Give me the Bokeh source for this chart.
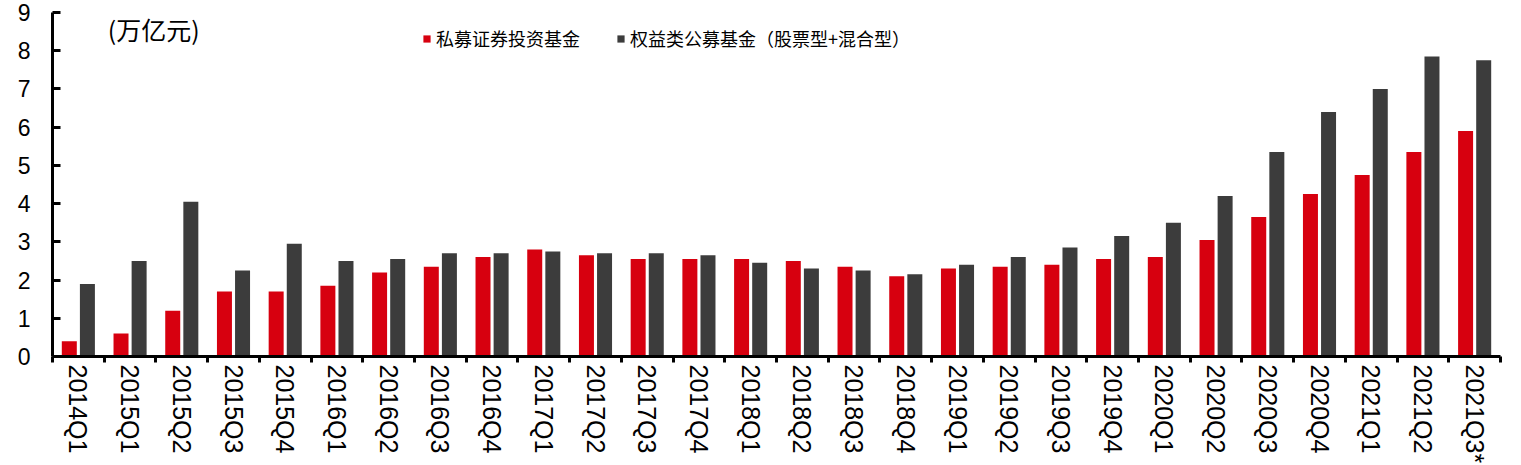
import math
import numpy as np
from bokeh.plotting import figure
from bokeh.models import (ColumnDataSource, FixedTicker, Legend, LegendItem,
                          Label, Range1d)
from bokeh.embed import file_html
from bokeh.resources import INLINE

categories = ["2014Q1", "2015Q1", "2015Q2", "2015Q3", "2015Q4",
              "2016Q1", "2016Q2", "2016Q3", "2016Q4",
              "2017Q1", "2017Q2", "2017Q3", "2017Q4",
              "2018Q1", "2018Q2", "2018Q3", "2018Q4",
              "2019Q1", "2019Q2", "2019Q3", "2019Q4",
              "2020Q1", "2020Q2", "2020Q3", "2020Q4",
              "2021Q1", "2021Q2", "2021Q3*"]
private_funds = [0.40, 0.60, 1.20, 1.70, 1.70,
                 1.85, 2.20, 2.35, 2.60,
                 2.80, 2.65, 2.55, 2.55,
                 2.55, 2.50, 2.35, 2.10,
                 2.30, 2.35, 2.40, 2.55,
                 2.60, 3.05, 3.65, 4.25,
                 4.75, 5.35, 5.90]
public_equity_funds = [1.90, 2.50, 4.05, 2.25, 2.95,
                       2.50, 2.55, 2.70, 2.70,
                       2.75, 2.70, 2.70, 2.65,
                       2.45, 2.30, 2.25, 2.15,
                       2.40, 2.60, 2.85, 3.15,
                       3.50, 4.20, 5.35, 6.40,
                       7.00, 7.85, 7.75]
y_ticks = [0, 1, 2, 3, 4, 5, 6, 7, 8, 9]
series_names = ["私募证券投资基金", "权益类公募基金（股票型+混合型）"]
unit_label = "(万亿元)"

RED = "#D7000F"
DARK = "#3C3C3C"
LATIN = "Liberation Sans"
CJK = "Noto Sans CJK SC"

n = len(categories)
centers = np.arange(n) + 0.5
src = ColumnDataSource(dict(
    x_red=centers - 0.175,
    x_dark=centers + 0.175,
    red=private_funds,
    dark=public_equity_funds,
))

p = figure(frame_width=1448, frame_height=344, output_backend="svg",
           toolbar_location=None,
           x_range=Range1d(0, n), y_range=Range1d(0, 9),
           min_border_left=52, min_border_right=11, min_border_top=12,
           min_border_bottom=90)
p.outline_line_color = None
p.grid.visible = False
p.background_fill_color = "white"
p.border_fill_color = "white"

r1 = p.vbar(x="x_red", top="red", width=0.29, source=src,
            fill_color=RED, line_color=None)
r2 = p.vbar(x="x_dark", top="dark", width=0.29, source=src,
            fill_color=DARK, line_color=None)

# x axis: labels at centers, tick marks at category boundaries (minor ticks)
xa = p.xaxis[0]
xa.ticker = FixedTicker(ticks=list(centers), minor_ticks=list(range(n + 1)))
xa.major_label_overrides = {float(c): lab for c, lab in zip(centers, categories)}
xa.major_tick_in = 0
xa.major_tick_out = 0
xa.minor_tick_in = 0
xa.minor_tick_out = 6
xa.minor_tick_line_width = 3
xa.minor_tick_line_color = "black"
xa.axis_line_width = 3
xa.axis_line_color = "black"
xa.major_label_orientation = -math.pi / 2
xa.major_label_standoff = 2
xa.major_label_text_font = LATIN
xa.major_label_text_font_size = "25px"
xa.major_label_text_color = "black"

ya = p.yaxis[0]
ya.ticker = FixedTicker(ticks=y_ticks)
ya.major_tick_in = 8
ya.major_tick_out = 0
ya.major_tick_line_width = 3
ya.major_tick_line_color = "black"
ya.minor_tick_line_color = None
ya.axis_line_width = 3
ya.axis_line_color = "black"
ya.major_label_standoff = 22
ya.major_label_text_font = LATIN
ya.major_label_text_font_size = "23px"
ya.major_label_text_color = "black"

legend = Legend(items=[LegendItem(label=series_names[0], renderers=[r1]),
                       LegendItem(label=series_names[1], renderers=[r2])],
                orientation="horizontal", location=(370, 305),
                background_fill_alpha=0, border_line_color=None,
                padding=0, margin=0, spacing=36,
                glyph_width=9, glyph_height=9, label_standoff=5,
                label_text_font=CJK, label_text_font_size="18px",
                label_text_color="black")
p.add_layout(legend, "center")

p.add_layout(Label(x=1.07, y=8.56, text=unit_label, text_baseline="middle",
                   text_align="left", text_font=CJK, text_font_size="25px",
                   text_color="black"))

open("out.html", "w").write(file_html(p, INLINE))
